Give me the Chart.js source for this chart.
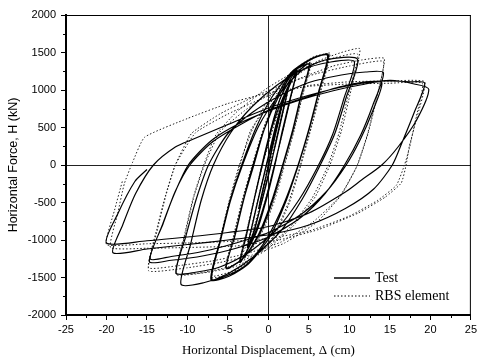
<!DOCTYPE html>
<html><head><meta charset="utf-8">
<script src="https://cdn.jsdelivr.net/npm/chart.js@4.4.1/dist/chart.umd.min.js"></script>
<style>html,body{margin:0;padding:0;background:#fff}#wrap{width:480px;height:360px}</style>
</head><body><div id="wrap"><canvas id="c" width="480" height="360"></canvas></div>
<script>
const xTickValues = [-25,-20,-15,-10,-5,0,5,10,15,20,25];
const yTickValues = [-2000,-1500,-1000,-500,0,500,1000,1500,2000];
const seriesNames = ["Test","RBS element"];
const xTitle = "Horizontal Displacement, \u0394 (cm)";
const yTitle = "Horizontal Force, H (kN)";

const testPath = [
[0,0],[0.6,300],[1.2,560],[0.7,330],[0,0],[-0.6,-300],[-1.2,-580],[-0.7,-330],[0,-20],[0.6,290],[1.2,560],
[1.8,850],[2.5,1050],[1.9,780],[1.0,350],[0.2,-50],[-0.8,-480],[-1.8,-880],[-2.6,-1100],[-2.0,-800],[-1.1,-380],[-0.2,30],[0.8,480],[1.8,870],[2.5,1060],[1.9,760],[1.0,330],[0.1,-80],[-0.9,-520],[-1.8,-900],[-2.6,-1100],[-1.9,-760],[-1.0,-340],[-0.1,60],
[1.0,520],[2.0,900],[3.5,1260],[2.7,900],[1.7,450],[0.8,0],[-0.3,-480],[-1.5,-900],[-3.5,-1300],[-2.7,-930],[-1.8,-480],[-0.8,0],[0.3,480],[1.5,900],[3.5,1270],[2.7,880],[1.7,420],[0.7,-20],[-0.5,-520],[-1.8,-950],[-3.5,-1300],[-2.6,-880],[-1.7,-430],[-0.7,20],[0.5,520],
[1.8,900],[3.4,1220],[5.1,1350],[4.1,950],[3.0,450],[1.8,0],[0.6,-450],[-1.0,-900],[-3.0,-1230],[-5.2,-1380],[-4.2,-960],[-3.1,-470],[-1.9,0],[-0.6,450],[1.0,900],[3.0,1240],[5.0,1340],[4.0,920],[2.9,430],[1.7,-20],[0.4,-480],[-1.2,-920],[-3.2,-1250],[-5.2,-1370],[-4.1,-930],[-3.0,-440],[-1.8,0],
[-0.5,480],[1.2,900],[3.2,1250],[5.5,1420],[7.4,1470],[6.3,1000],[5.1,500],[3.7,0],[2.1,-500],[0.2,-950],[-2.3,-1300],[-4.8,-1480],[-7.1,-1530],[-6.0,-1020],[-4.8,-500],[-3.3,0],[-1.6,480],[0.4,900],[3.0,1250],[5.5,1430],[7.3,1460],[6.2,980],[5.0,480],[3.6,-20],[1.9,-520],[-0.2,-980],[-2.6,-1320],[-5.0,-1470],[-7.0,-1520],[-5.9,-1000],[-4.7,-480],[-3.2,0],
[-1.2,520],[1.2,920],[4.0,1250],[7.0,1400],[11.0,1410],[9.6,900],[8.2,420],[6.4,0],[4.2,-450],[1.6,-870],[-1.8,-1220],[-5.0,-1450],[-8.0,-1570],[-10.8,-1590],[-9.6,-1050],[-8.3,-470],[-6.8,0],[-4.6,440],[-2.0,780],[1.0,1060],[4.0,1260],[7.5,1370],[10.6,1380],[9.3,880],[7.9,400],[6.1,-20],[3.8,-460],[1.0,-860],[-2.5,-1170],[-6.0,-1360],[-9.0,-1430],[-11.4,-1440],[-10.2,-950],[-8.9,-450],[-7.4,0],
[-5.0,420],[-2.0,700],[1.5,930],[5.0,1100],[9.0,1200],[12.0,1240],[14.2,1230],[12.9,800],[11.4,400],[9.4,0],[7.0,-380],[4.0,-700],[0,-960],[-4.0,-1110],[-8.0,-1210],[-12.0,-1270],[-14.7,-1290],[-13.1,-800],[-11.6,-380],[-9.9,0],[-7.0,330],[-3.5,560],[0,720],[4.0,870],[8.0,990],[11.5,1070],[14.0,1100],
[12.8,700],[11.3,330],[9.6,0],[7.2,-350],[4.0,-660],[0,-900],[-4.0,-1040],[-8.0,-1150],[-12.0,-1220],[-14.6,-1250],[-13.0,-780],[-11.5,-350],[-9.7,0],
[-7.0,300],[-3.6,530],[0,730],[4.0,880],[8.7,1040],[12.0,1110],[15.0,1120],[17.5,1110],[19.3,1090],[18.0,700],[16.5,300],[15.3,0],[13.0,-320],[9.5,-580],[5.0,-800],[0,-930],[-5.0,-1000],[-10.0,-1060],[-15.0,-1120],[-19.2,-1170],[-18.0,-800],[-16.4,-380],[-14.2,0],[-11.5,240],[-9.4,340],[-5.0,540],[0,760],[5.0,930],[10.0,1060],[15.0,1130],[18.0,1080],[19.8,1010],[18.3,600],[16.0,240],[14.0,0],[11.5,-200],[9.5,-360],[5.0,-640],[0,-820],[-5.0,-900],[-10.0,-960],[-15.0,-1010],[-20.0,-1040],[-18.6,-650],[-16.5,-220],[-15.0,-60]
];

const rbsPath = [
[0,0],[0.6,320],[1.2,580],[0.6,300],[0,20],[-0.6,-300],[-1.2,-580],[-0.6,-290],[0,30],[0.7,350],[1.3,600],
[2.0,900],[2.6,1080],[2.0,800],[1.1,380],[0.2,-30],[-0.8,-470],[-1.8,-880],[-2.6,-1080],[-2.0,-790],[-1.1,-370],[-0.1,60],[0.9,500],[1.9,880],[2.6,1080],[1.9,760],[0.9,320],
[-0.2,-120],[-1.6,-760],[-3.6,-1280],[-2.8,-930],[-1.8,-460],[-0.8,0],[0.4,500],[1.6,930],[3.6,1290],[2.8,920],[1.7,420],[0.7,-30],[-0.6,-560],[-1.9,-980],[-3.6,-1300],[-2.6,-850],[-1.6,-390],[-0.6,50],
[1.0,640],[2.4,1050],[3.8,1290],[5.3,1370],[4.3,960],[3.2,470],[2.0,0],[0.8,-460],[-0.8,-900],[-2.8,-1230],[-5.3,-1380],[-4.3,-940],[-3.2,-450],[-2.0,0],[-0.7,460],[0.9,900],[3.0,1260],[5.2,1360],[4.2,940],[3.1,450],[1.9,0],[0.6,-480],[-1.0,-920],[-3.2,-1260],[-5.3,-1380],[-4.2,-920],[-3.1,-430],[-1.9,0],
[-0.6,480],[1.0,900],[3.0,1230],[5.5,1420],[7.6,1490],[6.5,1000],[5.3,500],[4.0,0],[2.6,-500],[0.8,-930],[-2.0,-1260],[-4.6,-1420],[-7.0,-1480],[-6.0,-1000],[-4.9,-500],[-3.6,0],[-2.0,470],[0,880],[2.8,1240],[5.5,1440],[7.5,1480],[6.4,980],[5.2,480],[3.9,-20],[2.4,-520],[0.4,-980],[-2.5,-1300],[-5.0,-1460],[-7.0,-1500],[-5.9,-990],[-4.8,-480],[-3.5,0],
[-2.2,460],[0,800],[3.0,1150],[6.0,1380],[9.0,1500],[11.3,1550],[10.2,1000],[9.0,450],[7.6,0],[5.8,-420],[3.0,-820],[-0.5,-1150],[-4.0,-1350],[-7.5,-1430],[-11.4,-1460],[-10.4,-950],[-9.3,-440],[-8.0,0],[-6.5,400],[-4.0,700],[-0.5,1000],[3.0,1230],[6.5,1380],[11.0,1480],[9.9,950],[8.7,420],[7.3,-20],[5.4,-440],[2.5,-850],[-1.0,-1160],[-5.0,-1360],[-8.5,-1440],[-11.4,-1450],[-10.3,-930],[-9.2,-420],[-7.9,0],
[-6.0,440],[-3.0,720],[0,940],[4.0,1160],[8.0,1320],[11.5,1400],[14.3,1420],[13.4,900],[12.3,420],[11.0,0],[9.0,-400],[6.0,-760],[2.0,-1040],[-2.0,-1200],[-6.0,-1300],[-10.0,-1370],[-14.8,-1410],[-13.8,-900],[-12.7,-420],[-11.5,0],[-9.5,420],[-6.0,680],[-2.0,900],[2.0,1080],[6.0,1220],[10.0,1320],[14.2,1380],[13.3,880],[12.2,400],[10.9,-20],[8.8,-420],[5.5,-760],[1.5,-1030],[-3.0,-1190],[-7.0,-1280],[-11.0,-1340],[-14.8,-1370],[-13.8,-860],[-12.7,-400],[-11.5,0],
[-9.0,430],[-5.0,680],[0,920],[5.0,1060],[10.0,1110],[15.0,1120],[19.3,1110],[18.3,620],[17.4,250],[17.0,0],[16.4,-240],[14.4,-430],[11.1,-640],[6.2,-860],[1.3,-1000],[-4.0,-1080],[-10.0,-1100],[-15.0,-1110],[-19.5,-1100],[-18.6,-640],[-17.8,-250],[-16.8,30],[-15.3,370],[-10.0,620],[-5.0,820],[0,960],[5.0,1050],[10.0,1080],[15.0,1090],[19.0,1090],[18.2,620],[17.4,220],[16.8,0],[15.8,-270],[13.5,-470],[10.0,-680],[5.0,-880],[0,-980],[-5.0,-1020],[-10.0,-1040],[-15.0,-1050],[-20.0,-1060],[-19.0,-600],[-18.0,-200]
];

const toXY = p => p.map(([x,y]) => ({x, y}));

const framePlugin = {
  id: 'frame',
  afterDatasetsDraw(chart) {
    const {ctx, chartArea: a, scales} = chart;
    ctx.save();
    ctx.strokeStyle = '#000';
    ctx.lineWidth = 1;
    ctx.beginPath();
    ctx.moveTo(a.left, a.top + 0.5); ctx.lineTo(a.right, a.top + 0.5);
    ctx.moveTo(a.right - 0.5, a.top); ctx.lineTo(a.right - 0.5, a.bottom);
    ctx.stroke();
    ctx.beginPath();
    for (let i = 0; i < xTickValues.length - 1; i++) {
      const px = Math.round(scales.x.getPixelForValue((xTickValues[i] + xTickValues[i+1]) / 2)) + 0.5;
      ctx.moveTo(px, a.bottom); ctx.lineTo(px, a.bottom + 3);
    }
    for (let i = 0; i < yTickValues.length - 1; i++) {
      const py = Math.round(scales.y.getPixelForValue((yTickValues[i] + yTickValues[i+1]) / 2)) + 0.5;
      ctx.moveTo(a.left - 3, py); ctx.lineTo(a.left, py);
    }
    ctx.stroke();
    const lx0 = 334, lx1 = 370, ly1 = 278, ly2 = 296;
    ctx.lineWidth = 1.3;
    ctx.beginPath(); ctx.moveTo(lx0, ly1); ctx.lineTo(lx1, ly1); ctx.stroke();
    ctx.lineWidth = 1;
    ctx.setLineDash([1.5, 2]);
    ctx.beginPath(); ctx.moveTo(lx0, ly2); ctx.lineTo(lx1, ly2); ctx.stroke();
    ctx.setLineDash([]);
    ctx.fillStyle = '#000';
    ctx.font = '14px "Liberation Serif", "Times New Roman", serif';
    ctx.textBaseline = 'middle';
    ctx.fillText(seriesNames[0], 375, ly1);
    ctx.fillText(seriesNames[1], 375, ly2);
    ctx.restore();
  }
};

const gridColor = c => (c.tick && c.tick.value === 0) ? '#222' : 'rgba(0,0,0,0)';
const plainLabel = v => String(v);

new Chart(document.getElementById('c'), {
  type: 'scatter',
  data: {
    datasets: [
      { label: seriesNames[0], data: toXY(testPath), showLine: true, borderColor: '#000', borderWidth: 1.2, pointRadius: 0, tension: 0.25, fill: false },
      { label: seriesNames[1], data: toXY(rbsPath), showLine: true, borderColor: '#222', borderWidth: 1, borderDash: [1.5, 2], pointRadius: 0, tension: 0.15, fill: false }
    ]
  },
  options: {
    responsive: false,
    animation: false,
    layout: { padding: { left: 0, right: 7, top: 15, bottom: 0 } },
    plugins: { legend: { display: false }, tooltip: { enabled: false } },
    scales: {
      x: {
        type: 'linear', min: -25, max: 25,
        afterBuildTicks: s => { s.ticks = xTickValues.map(v => ({value: v})); },
        afterFit: s => { s.height = 45; },
        border: { display: true, color: '#000', width: 2 },
        grid: { color: gridColor, lineWidth: 1, drawTicks: true, tickLength: 5, tickColor: '#000', tickWidth: 1 },
        ticks: { color: '#000', font: { family: '"Liberation Sans", Arial, sans-serif', size: 11 }, padding: 3, maxRotation: 0, callback: plainLabel },
        title: { display: true, text: xTitle, color: '#000', font: { family: '"Liberation Serif", "Times New Roman", serif', size: 13 }, padding: { top: 0, bottom: 2 } }
      },
      y: {
        type: 'linear', min: -2000, max: 2000,
        afterBuildTicks: s => { s.ticks = yTickValues.map(v => ({value: v})); },
        afterFit: s => { s.width = 66; },
        border: { display: true, color: '#000', width: 2 },
        grid: { color: gridColor, lineWidth: 1, drawTicks: true, tickLength: 5, tickColor: '#000', tickWidth: 1 },
        ticks: { color: '#000', font: { family: '"Liberation Sans", Arial, sans-serif', size: 11 }, padding: 5, callback: plainLabel },
        title: { display: true, text: yTitle, color: '#000', font: { family: '"Liberation Sans", Arial, sans-serif', size: 12.5 }, padding: { top: 6, bottom: 0 } }
      }
    }
  },
  plugins: [framePlugin]
});
</script>
</body></html>
